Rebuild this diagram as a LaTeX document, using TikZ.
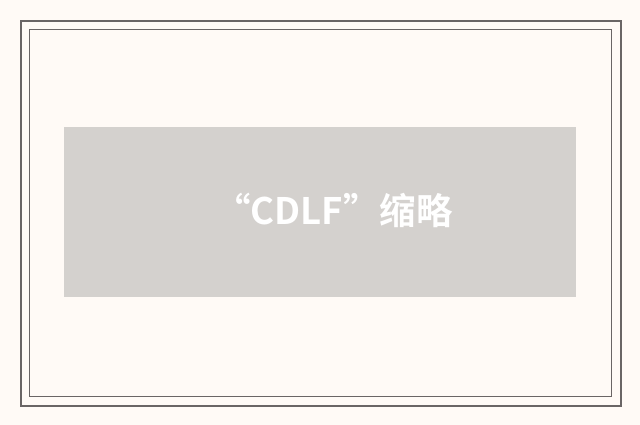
\documentclass[tikz,border=0pt]{standalone}
\usepackage{fontspec}
\newfontfamily\cjk{Noto Sans CJK SC}[BoldFont={* Bold}]
\definecolor{bgc}{HTML}{FFFAF6}
\definecolor{framec}{HTML}{6A6565}
\definecolor{boxc}{HTML}{D4D1CE}
\tikzset{
  outerframe/.style={draw=framec, line width=2pt},
  innerframe/.style={draw=framec, line width=1pt},
  graybox/.style={fill=boxc, draw=none},
  title/.style={text=white, font=\cjk\bfseries\fontsize{36.5}{42}\selectfont, inner sep=0pt}
}
\begin{document}
\begin{tikzpicture}[x=1pt,y=-1pt]
\fill[bgc] (0,0) rectangle (640,425);
\useasboundingbox (0,0) rectangle (640,425);
\draw[outerframe] (21,21) rectangle (620.5,405.5);
\draw[innerframe] (29.5,29.5) rectangle (611.5,396.5);
\fill[graybox] (64,127) rectangle (576,297);
\node[title] (t) at (333.5,210.5) {“CDLF”缩略};
\end{tikzpicture}
\end{document}
